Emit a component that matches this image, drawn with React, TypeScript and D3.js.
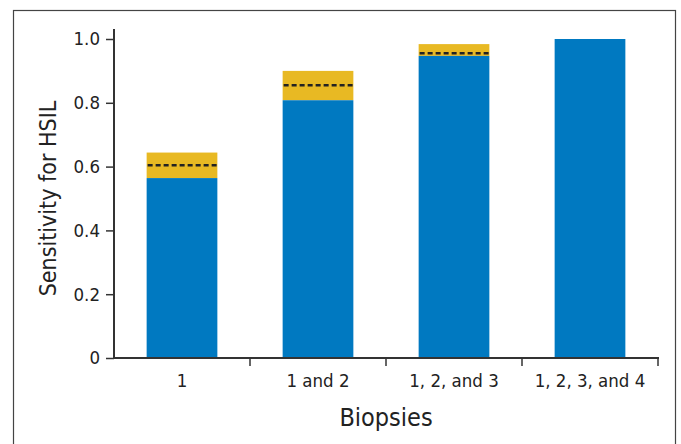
import { useEffect, useRef } from 'react'
import * as d3 from 'd3'

// values
const categories = ['1', '1 and 2', '1, 2, and 3', '1, 2, 3, and 4']
const baseValues = [0.564, 0.808, 0.947, 1.0]
const upperValues = [0.644, 0.9, 0.984, 1.0]
const dashedValues = [0.604, 0.855, 0.955, null]
const yTicks = [0, 0.2, 0.4, 0.6, 0.8, 1.0]

const FONT = "'Liberation Sans Narrow', 'DejaVu Sans Condensed', 'Roboto', sans-serif"
const BLUE = '#0079c1'
const GOLD = '#e8b923'
const AXIS = '#333'

const W = 681
const H = 444

const App = () => {
  const ref = useRef<SVGSVGElement | null>(null)

  useEffect(() => {
    const svg = d3.select(ref.current)
    svg.selectAll('*').remove()

    const left = 114, right = 658, top = 39, bottom = 358

    const x = d3.scaleBand<string>()
      .domain(categories)
      .range([left, right])
      .paddingInner(0.48)
      .paddingOuter(0.24)

    const y = d3.scaleLinear().domain([0, 1]).range([bottom, top])

    // outer frame
    svg.append('rect')
      .attr('x', 13.5).attr('y', 10.5)
      .attr('width', 662).attr('height', 460)
      .attr('fill', 'none').attr('stroke', '#444').attr('stroke-width', 1.2)

    const rows = categories.map((c, i) => ({ c, base: baseValues[i], upper: upperValues[i], dash: dashedValues[i] }))

    // gold part (upper bound)
    svg.selectAll('rect.up')
      .data(rows)
      .join('rect')
      .attr('class', 'up')
      .attr('x', d => x(d.c)!)
      .attr('width', x.bandwidth())
      .attr('y', d => y(d.upper))
      .attr('height', d => y(d.base) - y(d.upper))
      .attr('fill', GOLD)

    // blue part
    svg.selectAll('rect.base')
      .data(rows)
      .join('rect')
      .attr('class', 'base')
      .attr('x', d => x(d.c)!)
      .attr('width', x.bandwidth())
      .attr('y', d => y(d.base))
      .attr('height', d => bottom - y(d.base))
      .attr('fill', BLUE)

    // dashed lines
    svg.selectAll('line.dash')
      .data(rows.filter(d => d.dash != null))
      .join('line')
      .attr('class', 'dash')
      .attr('x1', d => x(d.c)! + 1)
      .attr('x2', d => x(d.c)! + x.bandwidth())
      .attr('y1', d => y(d.dash as number))
      .attr('y2', d => y(d.dash as number))
      .attr('stroke', '#222')
      .attr('stroke-width', 2.5)
      .attr('stroke-dasharray', '5,3')

    // y axis
    const yAxis = svg.append('g')
      .attr('transform', `translate(${left},0)`)
      .call(d3.axisLeft(y).tickValues(yTicks).tickSize(8).tickPadding(6)
        .tickFormat(d => (d === 0 ? '0' : d3.format('.1f')(d as number))))
    yAxis.select('.domain').attr('d', `M0,${top - 10}V${bottom}`)
      .attr('stroke', AXIS).attr('stroke-width', 2)
    yAxis.selectAll('.tick line').attr('stroke', AXIS).attr('stroke-width', 1.5)
    yAxis.selectAll('.tick text')
      .attr('font-family', FONT).attr('font-size', 18.5).attr('fill', '#222')

    // x axis with ticks at band boundaries
    const xg = svg.append('g').attr('transform', `translate(0,${bottom})`)
    xg.append('line')
      .attr('x1', left).attr('x2', right + 1)
      .attr('stroke', AXIS).attr('stroke-width', 2)
    const step = x.step()
    const bounds = categories.map(c => x(c)! + x.bandwidth() + step * 0.48 / 2)
    xg.selectAll('line.tk')
      .data(bounds)
      .join('line')
      .attr('class', 'tk')
      .attr('x1', d => d).attr('x2', d => d)
      .attr('y1', 0).attr('y2', 8)
      .attr('stroke', AXIS).attr('stroke-width', 1.5)
    xg.selectAll('text.lbl')
      .data(categories)
      .join('text')
      .attr('class', 'lbl')
      .attr('x', d => x(d)! + x.bandwidth() / 2)
      .attr('y', 29)
      .attr('text-anchor', 'middle')
      .attr('font-family', FONT).attr('font-size', 18.5).attr('fill', '#222')
      .text(d => d)

    // axis titles
    svg.append('text')
      .attr('transform', `translate(56,${(top + bottom) / 2}) rotate(-90)`)
      .attr('text-anchor', 'middle')
      .attr('font-family', FONT).attr('font-size', 23).attr('fill', '#222')
      .text('Sensitivity for HSIL')

    svg.append('text')
      .attr('x', (left + right) / 2)
      .attr('y', 426)
      .attr('text-anchor', 'middle')
      .attr('font-family', FONT).attr('font-size', 25).attr('fill', '#222')
      .text('Biopsies')
  }, [])

  return (
    <svg ref={ref} width={W} height={H} viewBox={`0 0 ${W} ${H}`}
      style={{ position: 'absolute', left: 0, top: 0, background: '#fff' }} />
  )
}

export default App
